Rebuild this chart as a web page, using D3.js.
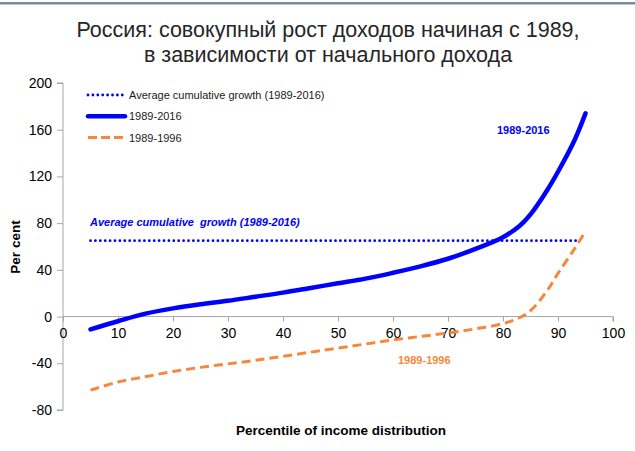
<!DOCTYPE html>
<html>
<head>
<meta charset="utf-8">
<script src="https://cdn.jsdelivr.net/npm/d3@7/dist/d3.min.js"></script>
<style>
  body { margin: 0; background: #fff; }
  svg { display: block; font-family: "Liberation Sans", Arial, sans-serif; }
</style>
</head>
<body>
<div id="chart"></div>
<script>
// percentiles of income distribution
var percentiles = [5, 10, 15, 20, 25, 30, 35, 40, 45, 50, 55, 60, 65, 70, 75, 80, 83, 85, 88, 90, 93, 95];
// cumulative growth 1989-2016, per cent
var growth2016 = [-11, -4, 2.5, 7, 10.5, 13.5, 17, 20.5, 24.5, 28.5, 32.5, 37.5, 43, 49.5, 58, 68, 77.5, 87.5, 108, 124, 151, 174];
// cumulative growth 1989-1996, per cent
var growth1996 = [-63, -56, -51.5, -47, -43.5, -40.5, -37.5, -34, -30.5, -27, -23.5, -20, -17, -14, -10.5, -6, -1, 5, 22, 37, 58, 73];
// average cumulative growth 1989-2016
var avgRange = [5, 94];
var avgValue = 65;

var yTicks = [-80, -40, 0, 40, 80, 120, 160, 200];
var xTicks = [0, 10, 20, 30, 40, 50, 60, 70, 80, 90, 100];

var width = 635, height = 451;
var blue = "#0000ff", orange = "#f5883a";

var svg = d3.select("#chart").append("svg")
  .attr("width", width)
  .attr("height", height);

// thin top bar
svg.append("rect")
  .attr("x", 0).attr("y", 2).attr("width", width).attr("height", 2.5)
  .attr("fill", "#7d8b98");

// title
var title = svg.append("text")
  .attr("text-anchor", "middle")
  .attr("fill", "#262626")
  .style("font-size", "21.5px");
title.append("tspan").attr("x", 328).attr("y", 37).text("Россия: совокупный рост доходов начиная с 1989,");
title.append("tspan").attr("x", 328).attr("y", 62).text("в зависимости от начального дохода");

var x = d3.scaleLinear().domain([0, 100]).range([63, 613]);
var y = d3.scaleLinear().domain([-80, 200]).range([410, 83]);

var plain = function(d) { return String(d); };

// y axis
var yAxis = svg.append("g")
  .attr("transform", "translate(" + x(0) + ",0)")
  .call(d3.axisLeft(y).tickValues(yTicks).tickFormat(plain).tickSize(6).tickPadding(5));
yAxis.select(".domain").attr("stroke", "#a6a6a6").attr("d", "M-6," + y(-80) + "H0V" + y(200) + "H-6");
yAxis.selectAll(".tick line").attr("stroke", "#a6a6a6");
yAxis.selectAll(".tick text").attr("fill", "#000").style("font-size", "14px");

// x axis at zero
var xAxis = svg.append("g")
  .attr("transform", "translate(0," + y(0) + ")")
  .call(d3.axisBottom(x).tickValues(xTicks).tickFormat(plain).tickSize(5).tickPadding(6));
xAxis.select(".domain").attr("stroke", "#a6a6a6").attr("d", "M" + x(0) + ",0H" + x(100) + "V5");
xAxis.selectAll(".tick line").attr("stroke", "#a6a6a6");
xAxis.selectAll(".tick text").attr("fill", "#000").style("font-size", "14px");

// axis titles
svg.append("text")
  .attr("transform", "translate(20," + 247 + ") rotate(-90)")
  .attr("text-anchor", "middle")
  .style("font-size", "13.5px").style("font-weight", "bold")
  .text("Per cent");
svg.append("text")
  .attr("x", 341).attr("y", 435)
  .attr("text-anchor", "middle")
  .style("font-size", "13.5px").style("font-weight", "bold")
  .text("Percentile of income distribution");

var line = d3.line()
  .x(function(d) { return x(d[0]); })
  .y(function(d) { return y(d[1]); })
  .curve(d3.curveCatmullRom.alpha(0.5));

// average dotted line
svg.append("path")
  .attr("d", line(avgRange.map(function(p) { return [p, avgValue]; })))
  .attr("fill", "none").attr("stroke", blue)
  .attr("stroke-width", 2.8).attr("stroke-linecap", "round")
  .attr("stroke-dasharray", "0,4.9");

// 1989-1996 dashed
svg.append("path")
  .attr("d", line(percentiles.map(function(p, i) { return [p, growth1996[i]]; })))
  .attr("fill", "none").attr("stroke", orange)
  .attr("stroke-width", 3).attr("stroke-dasharray", "9,5");

// 1989-2016 solid
svg.append("path")
  .attr("d", line(percentiles.map(function(p, i) { return [p, growth2016[i]]; })))
  .attr("fill", "none").attr("stroke", blue)
  .attr("stroke-width", 4.5).attr("stroke-linecap", "round");

// legend
var legend = [
  { label: "Average cumulative growth (1989-2016)", color: blue, w: 2.8, dash: "0,4.9", cap: "round" },
  { label: "1989-2016", color: blue, w: 4.5, dash: null, cap: "round" },
  { label: "1989-1996", color: orange, w: 3, dash: "9,4", cap: "butt" }
];
var lg = svg.selectAll(".legend").data(legend).enter().append("g")
  .attr("class", "legend")
  .attr("transform", function(d, i) { return "translate(88," + (95 + i * 21.3) + ")"; });
lg.append("line")
  .attr("x1", 0).attr("x2", 37)
  .attr("stroke", function(d) { return d.color; })
  .attr("stroke-width", function(d) { return d.w; })
  .attr("stroke-linecap", function(d) { return d.cap; })
  .attr("stroke-dasharray", function(d) { return d.dash; });
lg.append("text")
  .attr("x", 41).attr("y", 4)
  .attr("fill", "#1a1a1a")
  .style("font-size", "11px")
  .text(function(d) { return d.label; });

// annotations
svg.append("text")
  .attr("x", 90).attr("y", 226)
  .attr("fill", blue)
  .attr("xml:space", "preserve")
  .style("font-size", "11px").style("font-weight", "bold").style("font-style", "italic")
  .style("white-space", "pre")
  .text("Average cumulative  growth (1989-2016)");
svg.append("text")
  .attr("x", 497).attr("y", 134)
  .attr("fill", blue)
  .style("font-size", "11px").style("font-weight", "bold")
  .text("1989-2016");
svg.append("text")
  .attr("x", 398).attr("y", 364)
  .attr("fill", orange)
  .style("font-size", "11px").style("font-weight", "bold")
  .text("1989-1996");
</script>
</body>
</html>
